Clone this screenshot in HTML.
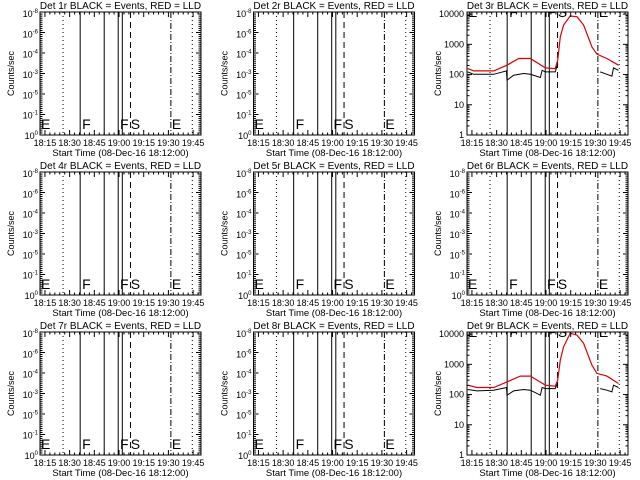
<!DOCTYPE html>
<html><head><meta charset="utf-8"><style>
html,body{margin:0;padding:0;background:#fff;}
svg{display:block;font-family:"Liberation Sans",sans-serif;}
</style></head><body>
<svg id="chart" width="640" height="480" viewBox="0 0 640 480"></svg>
<script>
// minutes after 18:12:00
const xTickLabels = ["18:15","18:30","18:45","19:00","19:15","19:30","19:45"];
const xTickMinutes = [3,18,33,48,63,78,93];
const markerTimes = [14,24.4,39,47.5,50,55,79.5,92.5];
const markerStyles = ["dot","solid","solid","solid","solid","dash","dashdot","dot"];
const letterTimes = [0,25,48,54.5,79.5];
const letterChars = ["E","F","F","S","E"];
const leftYLabels = ["-8","-6","-4","-3","-5","-1","0"];
const rightYValues = [1,10,100,1000,10000];
const rightYLabels = ["1","10","100","1000","10000"];
const det3RedT = [0.4,4.1,16.2,24.3,31.4,38.5,47.6,53.6,55.1,56.7,58.7,62.7,66.8,70.8,75.9,78.9,85,92];
const det3RedV = [158,132,132,204,340,340,166,158,297,1780,4350,8680,8200,4350,830,470,340,204];
const det3BlkT = [0.4,4.1,16.2,24.0,24.3,28.3,34.4,38.5,44.6,45.6,47.6,53.6,55.1,null,80.9,85,88,89,92];
const det3BlkV = [122,102,102,132,65,95,108,102,80,138,122,122,220,null,122,102,88,166,138];
const det9RedT = [0.4,6.1,16.2,24.3,32.4,38.5,47.6,53.6,55.1,56.7,58.7,62.7,66.8,70.8,75.9,78.9,85,92];
const det9RedV = [204,171,171,263,407,407,204,189,300,1380,3800,10700,9300,4950,940,500,407,233];
const det9BlkT = [0.4,6.1,16.2,24.0,24.3,28.3,34.4,38.5,44.6,45.6,47.6,53.6,55.1,null,80.9,85,88,89,92];
const det9BlkV = [147,132,139,171,95,132,147,139,95,171,158,158,240,null,158,139,122,204,171];

const NS="http://www.w3.org/2000/svg";
const svg=document.getElementById('chart');
function mk(tag,attrs,parent){const e=document.createElementNS(NS,tag);for(const k in attrs)e.setAttribute(k,attrs[k]);(parent||svg).appendChild(e);return e;}
const PW=161, PH=123, TMAX=97.8;
const defs=mk('defs',{});
function panel(idx,col,row,series){
  const ox=col*213.5, oy=row*160;
  const L=ox+40, T=oy+12, R=L+PW, B=T+PH;
  const cp=mk('clipPath',{id:'cp'+idx},defs);
  mk('rect',{x:L,y:T,width:PW,height:PH},cp);
  const g=mk('g',{});
  
  
  const xs=t=>L+t/TMAX*PW;
  const logMax=4.07;
  const ys=v=>B-Math.log10(v)/logMax*PH;
  const tt=mk('text',{x:L+PW/2,y:T-3,'font-size':10,'text-anchor':'middle'},g);
  tt.textContent='Det '+idx+'r BLACK = Events, RED = LLD';
  
  
  markerTimes.forEach((t,i)=>{
    const st=markerStyles[i];
    const da= st==='dot'?'1,3':st==='dash'?'6,4':st==='dashdot'?'6,2,1,2':'none';
    const ln=mk('line',{x1:xs(t),x2:xs(t),y1:T,y2:B,stroke:'#000','stroke-width':1,'stroke-dasharray':da},g);
    
    
  });
  const lg=mk('g',{'clip-path':'url(#cp'+idx+')'},g);
  letterTimes.forEach((t,i)=>{
    const ly= series? T+5 : B-6;
    const tx=mk('text',{x:xs(t)+1,y:ly,'font-size':14,fill:'#000'},lg);
    tx.textContent=letterChars[i];
    
    
  });
  if(series){
    const path=(ts,vs)=>{let d='',pen=false;for(let i=0;i<ts.length;i++){if(ts[i]===null){pen=false;continue;}d+=(pen?'L':'M')+xs(ts[i]).toFixed(1)+','+ys(vs[i]).toFixed(1);pen=true;}return d;};
    const r=mk('path',{d:path(series.rt,series.rv),fill:'none',stroke:'#e00000','stroke-width':1.2},g);
    
    
    const b=mk('path',{d:path(series.bt,series.bv),fill:'none',stroke:'#000','stroke-width':1},g);
    
    
  }
  const fr=mk('rect',{x:L,y:T,width:PW,height:PH,fill:'none',stroke:'#000','stroke-width':1},g);
  
  
  for(let m=0;m<=TMAX;m+=3){
    const big=((m-3)%15===0);
    const len=big?5:2.5;
    mk('line',{x1:xs(m),x2:xs(m),y1:B,y2:B-len,stroke:'#000'},g);
    mk('line',{x1:xs(m),x2:xs(m),y1:T,y2:T+len,stroke:'#000'},g);
  }
  xTickLabels.forEach((lab,i)=>{
    const tx=mk('text',{x:xs(xTickMinutes[i]),y:B+11,'font-size':9,'text-anchor':'middle'},g);
    tx.textContent=lab;
    
    
  });
  const xt=mk('text',{x:L+PW/2,y:B+21,'font-size':9.5,'text-anchor':'middle'},g);
  xt.textContent='Start Time (08-Dec-16 18:12:00)';
  
  
  const yt=mk('text',{x:0,y:0,'font-size':9,'text-anchor':'middle',transform:'translate('+(ox+14)+','+(T+PH/2)+') rotate(-90)'},g);
  yt.textContent='Counts/sec';
  
  
  if(series){
    for(let d=0;d<5;d++){for(let k=1;k<10;k++){const v=k*Math.pow(10,d);if(Math.log10(v)>logMax)break;const len=k===1?5:2.5;
      mk('line',{x1:L,x2:L+len,y1:ys(v),y2:ys(v),stroke:'#000'},g);
      mk('line',{x1:R,x2:R-len,y1:ys(v),y2:ys(v),stroke:'#000'},g);}}
    rightYValues.forEach((v,i)=>{
      const tx=mk('text',{x:L-3,y:ys(v)+3,'font-size':9,'text-anchor':'end'},g);
      tx.textContent=rightYLabels[i];
      
      
    });
  } else {
    for(let i=0;i<=60;i++){const y=B-i*PH/60;const len=(i%10===0)?5:2.5;
      mk('line',{x1:L,x2:L+len,y1:y,y2:y,stroke:'#000'},g);
      mk('line',{x1:R,x2:R-len,y1:y,y2:y,stroke:'#000'},g);}
    leftYLabels.forEach((lab,i)=>{
      const y=T+2+i*(PH-1)/6;
      const tx=mk('text',{x:L-2,y:y+3,'font-size':9,'text-anchor':'end'},g);
      tx.textContent='10';
      const sp=mk('tspan',{dy:-4,'font-size':6},tx);sp.textContent=lab;
      
      
    });
  }
}
panel(1,0,0,null);panel(2,1,0,null);
panel(3,2,0,{rt:det3RedT,rv:det3RedV,bt:det3BlkT,bv:det3BlkV});
panel(4,0,1,null);panel(5,1,1,null);panel(6,2,1,null);
panel(7,0,2,null);panel(8,1,2,null);
panel(9,2,2,{rt:det9RedT,rv:det9RedV,bt:det9BlkT,bv:det9BlkV});
</script>
</body></html>
